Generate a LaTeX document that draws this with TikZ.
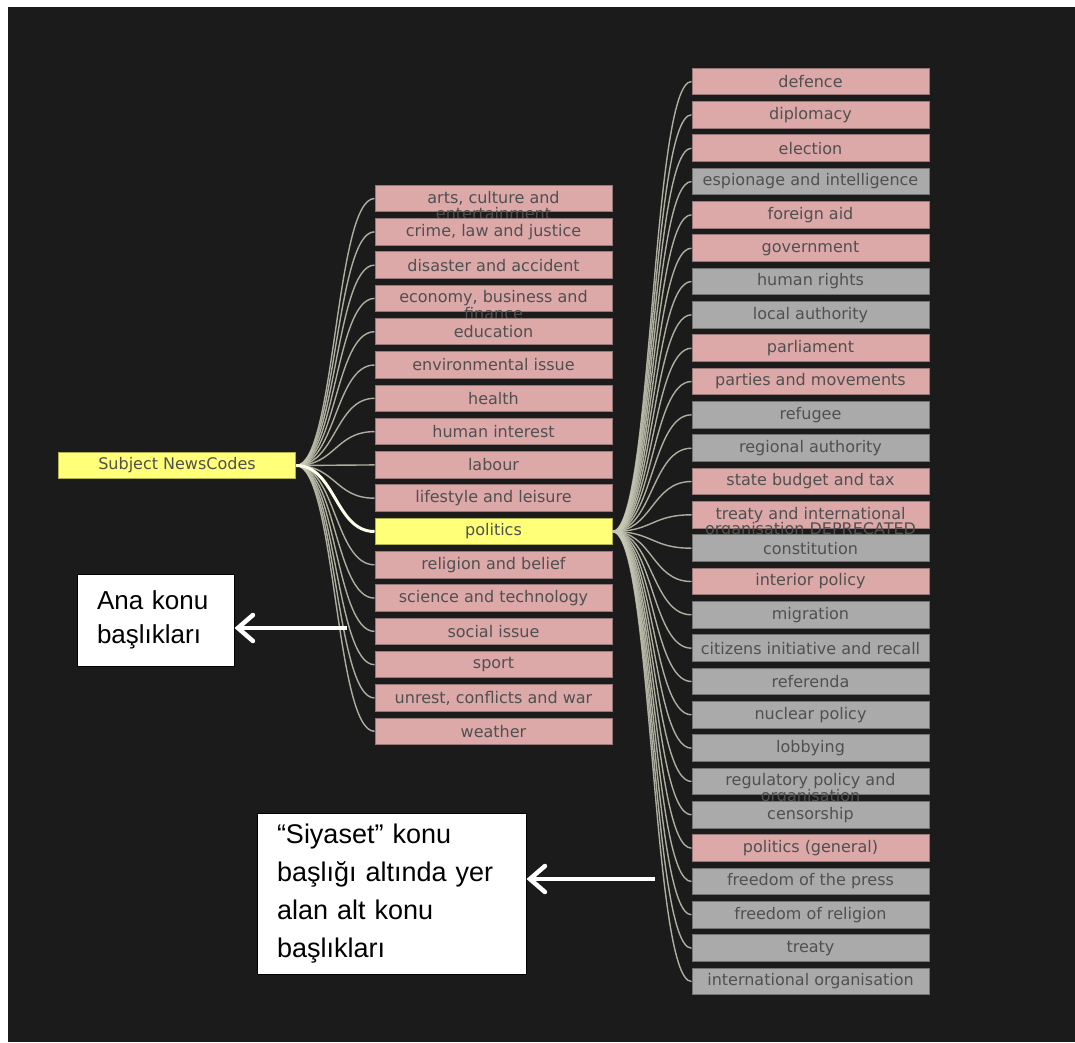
\documentclass[tikz,border=0pt]{standalone}
\usepackage{fontspec}
\usepackage{xcolor}
\usepackage{tikz}
\usetikzlibrary{arrows.meta}

\newfontfamily\kutufont{DejaVu Sans}
\newfontfamily\notfont{Liberation Sans}

\definecolor{zemin}{RGB}{27,27,27}
\definecolor{pembe}{RGB}{220,168,168}
\definecolor{pembekenar}{RGB}{150,120,120}
\definecolor{gri}{RGB}{170,170,170}
\definecolor{grikenar}{RGB}{115,115,115}
\definecolor{sari}{RGB}{255,255,120}
\definecolor{sarikenar}{RGB}{175,175,80}
\definecolor{yazi}{RGB}{80,80,80}
\definecolor{bagrenk}{RGB}{200,200,182}

\tikzset{
	konu/.style={rectangle, draw, line width=1pt, minimum width=237pt, minimum height=26.5pt,
		inner sep=0pt, text=yazi, font=\kutufont\fontsize{16}{17}\selectfont},
	pk/.style={konu, fill=pembe, draw=pembekenar},
	gk/.style={konu, fill=gri, draw=grikenar},
	sk/.style={konu, fill=sari, draw=sarikenar},
	tasan/.style={label={[anchor=center, yshift=-15.5pt, text=yazi,
		font=\kutufont\fontsize{16}{17}\selectfont]center:#1}},
	bag/.style={draw=bagrenk, line width=1.4pt, opacity=.85},
	not/.style={rectangle, draw=black, fill=white, line width=1pt, align=left,
		text=black, inner sep=0pt},
	ok/.style={draw=white, line width=4.5pt, -{Straight Barb[length=15pt,width=26pt,line cap=round]}}
}

\begin{document}
\begin{tikzpicture}[x=1pt,y=-1pt]
	\useasboundingbox (0,0) rectangle (1075,1042);
	\fill[white] (0,0) rectangle (1075,1042);
	\fill[zemin] (8,7) rectangle (1075,1042);
	
	% Kok
	\node[sk] (root) at (177,465.5) {Subject NewsCodes};
	
	% Ana konular
	\node[pk,tasan=entertainment] (m1) at (493.5,198.5) {arts, culture and};
	\node[pk] (m2) at (493.5,231.8) {crime, law and justice};
	\node[pk] (m3) at (493.5,265.1) {disaster and accident};
	\node[pk,tasan=finance] (m4) at (493.5,298.4) {economy, business and};
	\node[pk] (m5) at (493.5,331.7) {education};
	\node[pk] (m6) at (493.5,365.0) {environmental issue};
	\node[pk] (m7) at (493.5,398.3) {health};
	\node[pk] (m8) at (493.5,431.6) {human interest};
	\node[pk] (m9) at (493.5,464.9) {labour};
	\node[pk] (m10) at (493.5,498.2) {lifestyle and leisure};
	\node[sk] (m11) at (493.5,531.5) {politics};
	\node[pk] (m12) at (493.5,564.8) {religion and belief};
	\node[pk] (m13) at (493.5,598.1) {science and technology};
	\node[pk] (m14) at (493.5,631.4) {social issue};
	\node[pk] (m15) at (493.5,664.7) {sport};
	\node[pk] (m16) at (493.5,698.0) {unrest, conflicts and war};
	\node[pk] (m17) at (493.5,731.3) {weather};
	
	% Siyaset alt konulari
	\node[pk] (s1) at (810.5,81.5) {defence};
	\node[pk] (s2) at (810.5,114.8) {diplomacy};
	\node[pk] (s3) at (810.5,148.2) {election};
	\node[gk] (s4) at (810.5,181.5) {espionage and intelligence};
	\node[pk] (s5) at (810.5,214.8) {foreign aid};
	\node[pk] (s6) at (810.5,248.2) {government};
	\node[gk] (s7) at (810.5,281.5) {human rights};
	\node[gk] (s8) at (810.5,314.8) {local authority};
	\node[pk] (s9) at (810.5,348.2) {parliament};
	\node[pk] (s10) at (810.5,381.5) {parties and movements};
	\node[gk] (s11) at (810.5,414.8) {refugee};
	\node[gk] (s12) at (810.5,448.2) {regional authority};
	\node[pk] (s13) at (810.5,481.5) {state budget and tax};
	\node[pk,tasan=organisation DEPRECATED] (s14) at (810.5,514.8) {treaty and international};
	\node[gk] (s15) at (810.5,548.2) {constitution};
	\node[pk] (s16) at (810.5,581.5) {interior policy};
	\node[gk] (s17) at (810.5,614.8) {migration};
	\node[gk] (s18) at (810.5,648.2) {citizens initiative and recall};
	\node[gk] (s19) at (810.5,681.5) {referenda};
	\node[gk] (s20) at (810.5,714.8) {nuclear policy};
	\node[gk] (s21) at (810.5,748.2) {lobbying};
	\node[gk,tasan=organisation] (s22) at (810.5,781.5) {regulatory policy and};
	\node[gk] (s23) at (810.5,814.8) {censorship};
	\node[pk] (s24) at (810.5,848.2) {politics (general)};
	\node[gk] (s25) at (810.5,881.5) {freedom of the press};
	\node[gk] (s26) at (810.5,914.8) {freedom of religion};
	\node[gk] (s27) at (810.5,948.2) {treaty};
	\node[gk] (s28) at (810.5,981.5) {international organisation};
	
	% Baglar
	\foreach \i in {1,...,17}
		\draw[bag] (root.east) .. controls +(39.5,0) and +(-39.5,0) .. (m\i.west);
	\draw[draw=white!92!yellow, line width=3pt] (root.east) .. controls +(39.5,0) and +(-39.5,0) .. (m11.west);
	\foreach \i in {1,...,28}
		\draw[bag] (m11.east) .. controls +(40,0) and +(-40,0) .. (s\i.west);
	
	% Notlar
	\node[not, minimum width=157pt, minimum height=92pt, text width=117pt,
		font=\notfont\fontsize{26}{34}\selectfont] (ana) at (155.5,620) {Ana konu\\başlıkları};
	\node[not, minimum width=269pt, minimum height=161pt, text width=229pt,
		font=\notfont\fontsize{27}{38}\selectfont] (alt) at (391.5,893.5) {“Siyaset” konu\\başlığı altında yer\\alan alt konu\\başlıkları};
	
	% Oklar
	\coordinate (ok1) at (347,628);
	\coordinate (ok2) at (655,879);
	\draw[ok] (ok1) -- (ok1 -| ana.east);
	\draw[ok] (ok2) -- (ok2 -| alt.east);
\end{tikzpicture}
\end{document}
